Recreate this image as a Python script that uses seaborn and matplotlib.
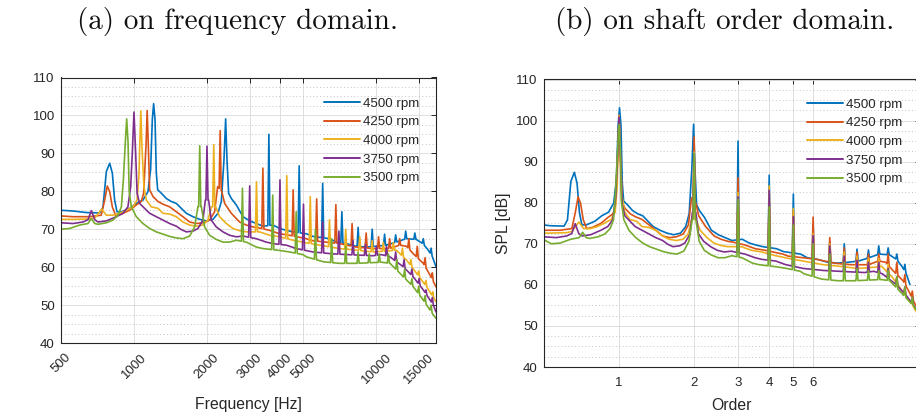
import numpy as np
import pandas as pd
import matplotlib
matplotlib.use("Agg")
import matplotlib.pyplot as plt
import seaborn as sns
from matplotlib.lines import Line2D
from matplotlib.ticker import FixedLocator, NullLocator, MultipleLocator

# ---------------- data ----------------
series_labels = ["4500 rpm", "4250 rpm", "4000 rpm", "3750 rpm", "3500 rpm"]
series_colors = ["#0072BD", "#D95319", "#EDB120", "#7E2F8E", "#77AC30"]
order1_hz = [1200.0, 1133.3, 1066.7, 1000.0, 933.3]   # frequency of order 1 per speed

freq_ticks = [500, 1000, 2000, 3000, 4000, 5000, 10000, 15000]
order_ticks = [1, 2, 3, 4, 5, 6]
spl_ticks = [40, 50, 60, 70, 80, 90, 100, 110]

# 4500 rpm
f4500 = [500, 560, 636, 722, 745, 769, 794, 814, 832, 851, 887, 960, 1022, 1089, 1142, 1171,
         1190, 1205, 1221, 1236, 1252, 1296, 1359, 1425, 1495, 1567, 1644, 1751, 1866, 1987,
         2117, 2220, 2292, 2350, 2388, 2418, 2456, 2520, 2642, 2815, 3000, 3195, 3403, 3743,
         3988, 4248, 4526, 5137, 5473, 6408, 6828, 7507, 8244, 9068, 9950, 10960, 12060,
         13250, 14590, 15540, 16300, 16990, 17600]
db4500 = [75.0, 74.8, 74.4, 74.3, 75.8, 85.2, 87.4, 84.8, 77.7, 74.6, 74.6, 75.5, 76.8, 77.7,
          79.9, 85.7, 98.9, 103.1, 98.9, 84.8, 80.4, 79.5, 78.1, 77.3, 76.8, 75.5, 74.2, 73.3,
          72.6, 72.2, 72.6, 74.2, 77.3, 88.3, 99.1, 88.3, 79.5, 78.1, 76.4, 73.3, 72.2, 71.5,
          70.8, 71.1, 70.2, 69.7, 69.3, 68.8, 68.1, 67.5, 66.6, 66.2, 65.5, 65.3, 65.5, 65.8,
          66.6, 67.5, 67.3, 66.2, 64.6, 62.8, 60.1]
pk_f4500 = [3600, 4800, 6000, 7200, 8400, 9600, 10800, 12000, 13200, 14400, 15600, 16800]
pk_db4500 = [95.0, 86.7, 82.1, 74.6, 70.5, 70.0, 68.7, 68.5, 69.5, 69.0, 67.5, 65.0]

# 4250 rpm
f4250 = [500, 560, 656, 733, 757, 776, 794, 814, 840, 887, 960, 1022, 1072, 1096, 1122, 1133,
         1145, 1160, 1198, 1256, 1317, 1403, 1495, 1592, 1696, 1807, 1925, 2051, 2150, 2213,
         2300, 2365, 2520, 2726, 2904, 3094, 3246, 3626, 3988, 4383, 5137, 5400, 6200, 7047,
         8244, 9660, 11325, 12440, 13300, 14200, 15600, 16600, 17600]
db4250 = [73.5, 73.3, 73.3, 73.7, 77.7, 81.4, 79.9, 75.9, 73.7, 74.0, 75.0, 76.4, 77.3, 79.5,
          92.7, 101.3, 92.7, 80.4, 78.6, 77.3, 76.6, 75.9, 74.6, 73.3, 71.9, 71.5, 71.7, 72.4,
          74.6, 81.2, 80.0, 76.8, 74.2, 71.9, 71.1, 70.6, 70.4, 69.7, 68.8, 68.4, 67.5, 67.0,
          66.6, 66.2, 65.3, 64.9, 64.9, 65.8, 65.5, 63.5, 61.0, 58.0, 54.8]
pk_f4250 = [2267, 3400, 4533, 5667, 6800, 7933, 9067, 10200, 11333, 12467, 13600, 14733, 15867, 17000]
pk_db4250 = [96.0, 86.1, 80.4, 78.0, 76.5, 71.5, 69.0, 68.0, 67.5, 67.5, 67.5, 65.5, 62.5, 58.5]

# 4000 rpm
f4000 = [500, 560, 656, 690, 736, 769, 819, 873, 930, 990, 1029, 1048, 1056, 1067, 1078, 1099,
         1124, 1179, 1256, 1317, 1403, 1495, 1592, 1696, 1807, 1925, 2019, 2084, 2171, 2255,
         2403, 2558, 2726, 2904, 3296, 3628, 3988, 4526, 5137, 5830, 7047, 8244, 9660, 11325,
         12060, 13320, 14660, 16110, 17440, 17600]
db4000 = [72.6, 72.6, 72.7, 73.0, 75.3, 73.7, 73.7, 74.2, 75.0, 75.9, 77.7, 83.9, 92.0, 101.2,
          92.0, 81.2, 77.7, 75.9, 75.5, 74.2, 74.0, 73.3, 71.9, 71.1, 70.8, 71.1, 72.4, 75.9,
          75.9, 73.3, 71.5, 70.2, 69.6, 69.3, 69.3, 68.4, 68.0, 67.1, 66.4, 65.8, 64.9, 64.5,
          64.0, 64.3, 64.5, 61.8, 58.3, 54.8, 51.3, 50.9]
pk_f4000 = [2133, 3200, 4267, 5333, 6400, 7467, 8533, 9600, 10667, 11733, 12800, 13867, 14933,
            16000, 17067]
pk_db4000 = [92.3, 82.5, 84.1, 78.6, 72.5, 70.0, 68.0, 67.0, 66.5, 66.5, 65.0, 62.0, 59.0, 56.5, 53.5]

# 3750 rpm
f3750 = [500, 560, 616, 646, 667, 689, 711, 769, 846, 901, 944, 969, 984, 1000, 1016, 1030,
         1055, 1106, 1160, 1236, 1317, 1403, 1495, 1567, 1644, 1751, 1836, 1925, 1969, 2031,
         2083, 2185, 2328, 2480, 2642, 2815, 3195, 3512, 3743, 4248, 4670, 5473, 6618, 8244,
         9660, 10500, 11370, 12900, 14190, 15600, 17160, 17600]
db3750 = [71.7, 71.5, 71.9, 72.5, 74.9, 72.5, 71.9, 72.2, 73.3, 74.2, 75.9, 81.2, 90.0, 100.9,
          90.0, 79.5, 76.8, 75.5, 74.2, 73.3, 72.4, 71.5, 70.8, 69.9, 69.3, 69.5, 70.2, 72.4,
          77.7, 77.7, 72.4, 70.6, 69.3, 68.4, 68.0, 68.2, 67.5, 66.6, 66.2, 65.8, 64.9, 64.0,
          63.5, 63.2, 63.0, 63.3, 62.7, 60.1, 57.4, 54.0, 50.0, 48.2]
pk_f3750 = [2000, 3000, 4000, 5000, 6000, 7000, 8000, 9000, 10000, 11000, 12000, 13000, 14000,
            15000, 16000, 17000]
pk_db3750 = [91.9, 81.4, 83.0, 76.6, 72.0, 69.5, 67.0, 66.0, 65.5, 65.5, 64.0, 62.0, 59.5, 57.0,
             54.0, 52.0]

# 3500 rpm
f3500 = [465, 500, 543, 597, 646, 667, 689, 711, 769, 819, 859, 887, 904, 921, 933, 945, 955,
         975, 1022, 1089, 1160, 1236, 1317, 1403, 1495, 1592, 1696, 1779, 1836, 1895, 1956,
         2051, 2185, 2328, 2480, 2642, 2904, 3195, 3403, 3988, 4383, 4975, 5150, 6060, 7047,
         8244, 9660, 10500, 11370, 12900, 14190, 15600, 17160, 17600]
db3500 = [71.0, 70.0, 70.2, 71.1, 71.5, 72.8, 71.5, 71.3, 71.7, 72.4, 73.7, 75.9, 83.0, 93.0,
          99.1, 93.0, 80.0, 75.9, 73.3, 71.5, 70.2, 69.3, 68.7, 68.1, 67.7, 67.5, 68.2, 70.6,
          76.0, 76.0, 70.6, 68.4, 67.3, 66.6, 66.6, 67.1, 66.6, 65.3, 64.9, 64.4, 64.0, 63.3,
          62.7, 61.4, 61.0, 61.0, 61.2, 61.3, 61.0, 57.5, 54.8, 51.3, 47.4, 46.5]
pk_f3500 = [1867, 2800, 3733, 4667, 5600, 6533, 7467, 8400, 9333, 10267, 11200, 12133, 13067,
            14000, 14933, 15867, 16800]
pk_db3500 = [92.0, 80.8, 79.0, 74.6, 70.0, 67.5, 65.5, 64.0, 63.5, 63.5, 63.5, 62.0, 59.5, 57.0,
             55.0, 52.5, 50.0]

base_f = [f4500, f4250, f4000, f3750, f3500]
base_db = [db4500, db4250, db4000, db3750, db3500]
peak_f = [pk_f4500, pk_f4250, pk_f4000, pk_f3750, pk_f3500]
peak_db = [pk_db4500, pk_db4250, pk_db4000, pk_db3750, pk_db3500]


def build_curve(bf, bdb, pf, pdb, w=0.010):
    """Merge the broadband line with narrow tonal spikes (spike feet sit on the broadband line)."""
    bf = np.asarray(bf, float)
    bdb = np.asarray(bdb, float)
    lbf = np.log10(bf)
    keep = np.ones(len(bf), bool)
    for f in pf:
        keep &= ~((bf > f * (1 - w)) & (bf < f * (1 + w)))
    xs = list(bf[keep])
    ys = list(bdb[keep])
    for f, d in zip(pf, pdb):
        for ff in (f * (1 - w), f * (1 + w)):
            xs.append(ff)
            ys.append(float(np.interp(np.log10(ff), lbf, bdb)))
        xs.append(f)
        ys.append(d)
    idx = np.argsort(xs)
    return np.asarray(xs)[idx], np.asarray(ys)[idx]


frames = []
for lab, bf, bdb, pf, pdb, f1 in zip(series_labels, base_f, base_db, peak_f, peak_db, order1_hz):
    x, y = build_curve(bf, bdb, pf, pdb)
    frames.append(pd.DataFrame({"freq": x, "order": x / f1, "spl": y, "series": lab}))
df = pd.concat(frames, ignore_index=True)

# ---------------- figure ----------------
sns.set_style("white")
plt.rcParams["font.family"] = ["Liberation Sans", "DejaVu Sans"]
INK = "#262626"

W, H = 916, 417
fig = plt.figure(figsize=(W / 100, H / 100), dpi=100)


def px_axes(x0, y0, x1, y1):
    return [x0 / W, 1 - y1 / H, (x1 - x0) / W, (y1 - y0) / H]


ax1 = fig.add_axes(px_axes(61, 77.5, 436, 343))
ax2 = fig.add_axes(px_axes(544, 79.5, 920, 367))

for ax, xcol in ((ax1, "freq"), (ax2, "order")):
    ax.set_xscale("log")
    sns.lineplot(data=df, x=xcol, y="spl", hue="series", hue_order=series_labels,
                 palette=series_colors, estimator=None, sort=False, lw=1.2,
                 legend=False, ax=ax)
    ax.set_ylim(40, 110)
    ax.yaxis.set_major_locator(FixedLocator(spl_ticks))
    ax.yaxis.set_minor_locator(MultipleLocator(2.5))
    ax.xaxis.set_minor_locator(NullLocator())
    ax.set_axisbelow(True)
    ax.grid(True, which="major", color="#dedede", lw=0.7, ls="-")
    ax.grid(True, which="minor", axis="y", color="#c4c4c4", lw=0.7, ls=(0, (1, 2.5)))
    ax.tick_params(which="major", direction="in", length=3.5, width=0.7, top=True,
                   right=True, color=INK, labelsize=9.5, labelcolor=INK)
    ax.tick_params(which="minor", length=0)
    ax.tick_params(axis="y", pad=4.5)
    for s in ax.spines.values():
        s.set_color(INK)
        s.set_linewidth(0.8)

ax1.set_xlim(500, 17600)
ax1.xaxis.set_major_locator(FixedLocator(freq_ticks))
ax1.set_xticklabels([str(t) for t in freq_ticks], rotation=45, ha="center")
ax1.tick_params(axis="x", pad=6)
ax1.set_xlabel("Frequency [Hz]", fontsize=11.3, color=INK, va="center")
ax1.xaxis.set_label_coords(0.5, -0.233)
ax1.set_ylabel("")

ax2.set_xlim(0.5, 16.1)
ax2.xaxis.set_major_locator(FixedLocator(order_ticks))
ax2.set_xticklabels([str(t) for t in order_ticks])
ax2.tick_params(axis="x", pad=7)
ax2.set_xlabel("Order", fontsize=11.3, color=INK, va="center")
ax2.xaxis.set_label_coords(0.5, -0.134)
ax2.set_ylabel("SPL [dB]", fontsize=11.3, color=INK, va="center")
ax2.yaxis.set_label_coords(-0.109, 0.5)

handles = [Line2D([0], [0], color=c, lw=1.4) for c in series_colors]
for x0, y0 in ((324, 97.5), (807, 98.5)):
    fig.legend(handles, series_labels, loc="upper left",
               bbox_to_anchor=(x0 / W, 1 - y0 / H), frameon=False, fontsize=9.6,
               handlelength=2.7, handletextpad=0.2, labelspacing=0.47,
               borderpad=0, borderaxespad=0, labelcolor=INK)

fig.text(237.5 / W, 1 - 29.5 / H, "(a) on frequency domain.", ha="center", va="baseline",
         fontsize=21, family="cmr10", color="#111111")
fig.text(725 / W, 1 - 29.5 / H, "(b) on shaft order domain.", ha="center", va="baseline",
         fontsize=21, family="cmr10", color="#111111")

fig.savefig("out.png", dpi=100)
